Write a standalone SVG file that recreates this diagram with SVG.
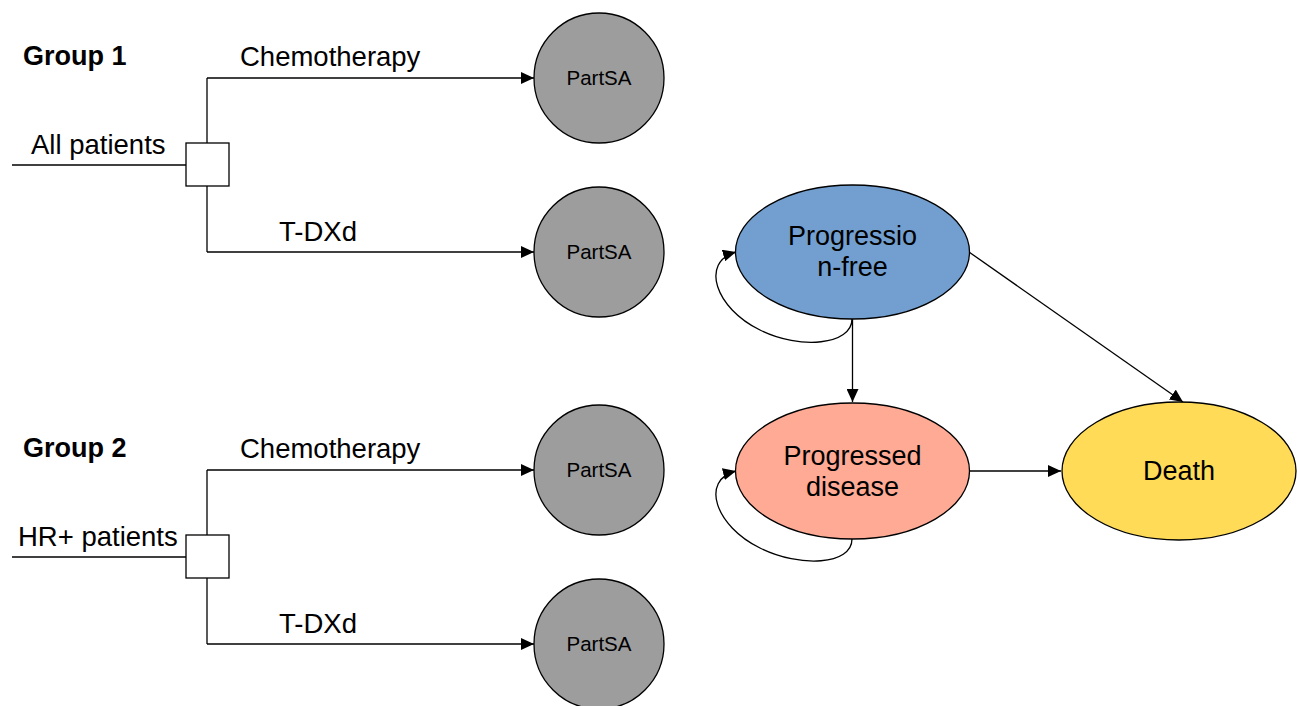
<svg xmlns="http://www.w3.org/2000/svg" width="1297" height="706" viewBox="0 0 1297 706">
<style>
text{font-family:"Liberation Sans",Arial,sans-serif;fill:#000}
.lbl{font-size:27.5px}
.grp{font-size:27px;font-weight:bold}
.ps{font-size:20.5px;text-anchor:middle}
.st{font-size:27px;text-anchor:middle}
.ln{fill:none;stroke:#000;stroke-width:1.3}
.arr{marker-end:url(#ah)}
.node{stroke:#000;stroke-width:1.3}
</style>
<defs>
<marker id="ah" markerUnits="userSpaceOnUse" markerWidth="14" markerHeight="12" refX="13" refY="6" orient="auto">
<path d="M0,0 L13,6 L0,12 Z" fill="#000"/>
</marker>
</defs>
<rect width="1297" height="706" fill="#fff"/>
<g id="connectors">
<line class="ln" x1="12" y1="165" x2="186" y2="165"/>
<polyline class="ln" points="207,143 207,78"/>
<line class="ln arr" x1="207" y1="78" x2="534" y2="78"/>
<polyline class="ln" points="207,186 207,252"/>
<line class="ln arr" x1="207" y1="252" x2="534" y2="252"/>
<line class="ln" x1="12" y1="557" x2="186" y2="557"/>
<polyline class="ln" points="207,535 207,470"/>
<line class="ln arr" x1="207" y1="470" x2="534" y2="470"/>
<polyline class="ln" points="207,578 207,644"/>
<line class="ln arr" x1="207" y1="644" x2="534" y2="644"/>
<path class="ln arr" d="M852,319 C852,345 800,350 760,330 C715,308 700,262 736,252"/>
<path class="ln arr" d="M852,539 C852,565 800,568 760,548 C715,526 700,480 736,471"/>
<line class="ln arr" x1="852.5" y1="319" x2="852.5" y2="402"/>
<line class="ln arr" x1="969" y1="252" x2="1183" y2="402"/>
<line class="ln arr" x1="969" y1="471" x2="1061" y2="471"/>
</g>
<g id="labels">
<text class="grp" x="23" y="65">Group 1</text>
<text class="lbl" x="240" y="66">Chemotherapy</text>
<text class="lbl" x="31" y="154">All patients</text>
<text class="lbl" x="279" y="241">T-DXd</text>
<text class="grp" x="23" y="457">Group 2</text>
<text class="lbl" x="240" y="458">Chemotherapy</text>
<text class="lbl" x="18" y="546">HR+ patients</text>
<text class="lbl" x="279" y="633">T-DXd</text>
</g>
<g id="decision1"><rect class="node" x="186" y="143" width="43" height="43" fill="#fff"/></g>
<g id="decision2"><rect class="node" x="186" y="535" width="43" height="43" fill="#fff"/></g>
<g id="partsa1"><circle class="node" cx="599" cy="78" r="65" fill="#9d9d9d"/><text class="ps" x="599" y="85">PartSA</text></g>
<g id="partsa2"><circle class="node" cx="599" cy="252" r="65" fill="#9d9d9d"/><text class="ps" x="599" y="259">PartSA</text></g>
<g id="partsa3"><circle class="node" cx="599" cy="470" r="65" fill="#9d9d9d"/><text class="ps" x="599" y="477">PartSA</text></g>
<g id="partsa4"><circle class="node" cx="599" cy="644" r="65" fill="#9d9d9d"/><text class="ps" x="599" y="651">PartSA</text></g>
<g id="pf"><ellipse class="node" cx="852.5" cy="252" rx="117" ry="67" fill="#729fcf"/><text class="st" x="852.5" y="245">Progressio</text><text class="st" x="852.5" y="276">n-free</text></g>
<g id="pd"><ellipse class="node" cx="852.5" cy="471" rx="117" ry="68" fill="#ffaa95"/><text class="st" x="852.5" y="465">Progressed</text><text class="st" x="852.5" y="496">disease</text></g>
<g id="death"><ellipse class="node" cx="1179" cy="471" rx="117" ry="69" fill="#ffdb58"/><text class="st" x="1179" y="480">Death</text></g>
</svg>
